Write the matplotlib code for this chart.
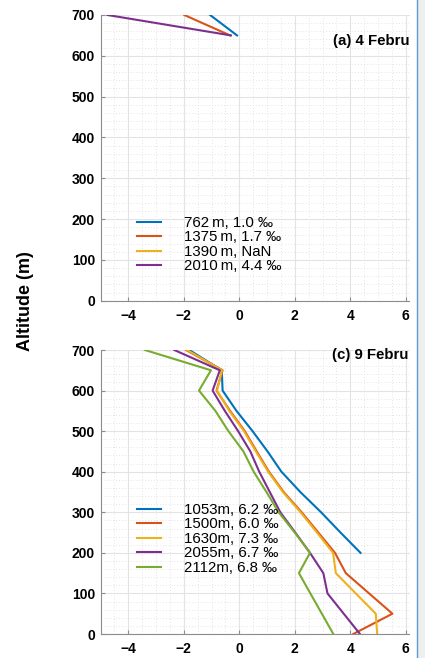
import matplotlib
matplotlib.use("Agg")
import matplotlib.pyplot as plt
from matplotlib.ticker import MultipleLocator
from matplotlib.patches import Rectangle
from matplotlib.lines import Line2D

plt.rcParams["font.family"] = ["Liberation Sans", "DejaVu Sans"]

colors = ["#0072BD", "#D95319", "#EDB120", "#7E2F8E", "#77AC30"]

# panel (a): 4 February
a_labels = ["762\u2009m, 1.0 \u2030", "1375\u2009m, 1.7 \u2030", "1390\u2009m, NaN", "2010\u2009m, 4.4 \u2030"]
a_alt = [700, 650]
a_x = [
    [-1.05, -0.08],
    [-1.98, -0.33],
    [float("nan"), float("nan")],
    [-4.75, -0.30],
]

# panel (c): 9 February
c_labels = ["1053m, 6.2 \u2030", "1500m, 6.0 \u2030", "1630m, 7.3 \u2030", "2055m, 6.7 \u2030", "2112m, 6.8 \u2030"]
c_alt = [
    [700, 650, 600, 550, 500, 450, 400, 350, 300, 250, 200],
    [700, 650, 600, 550, 500, 450, 400, 350, 300, 250, 200, 150, 50, 0],
    [700, 650, 600, 550, 500, 450, 400, 350, 300, 250, 200, 150, 50, 0],
    [700, 650, 600, 550, 500, 450, 400, 350, 300, 250, 200, 150, 100, 0],
    [700, 650, 600, 550, 500, 450, 400, 350, 300, 250, 200, 150, 0],
]
c_x = [
    [-1.80, -0.63, -0.60, -0.10, 0.48, 1.02, 1.52, 2.20, 2.95, 3.65, 4.37],
    [-1.92, -0.60, -0.82, -0.33, 0.20, 0.63, 1.07, 1.60, 2.25, 2.85, 3.45, 3.84, 5.52, 4.11],
    [-1.88, -0.62, -0.80, -0.36, 0.17, 0.60, 1.04, 1.57, 2.21, 2.80, 3.38, 3.48, 4.92, 4.97],
    [-2.34, -0.70, -0.96, -0.52, -0.04, 0.40, 0.72, 1.10, 1.48, 2.02, 2.55, 3.03, 3.18, 4.35],
    [-3.40, -1.02, -1.45, -0.86, -0.39, 0.15, 0.52, 0.98, 1.42, 2.00, 2.55, 2.15, 3.39],
]

W, H = 425, 658
fig = plt.figure(figsize=(W / 100, H / 100), dpi=100)

ax_left = 100.5 / W
ax_w = 11.5 * 27.75 / W
ax_a = fig.add_axes([ax_left, (H - 300.7) / H, ax_w, 285.7 / H])
ax_c = fig.add_axes([ax_left, (H - 634) / H, ax_w, 284 / H])


def style(ax):
    ax.set_xlim(-5, 6.5)
    ax.set_ylim(0, 700)
    ax.xaxis.set_major_locator(MultipleLocator(2))
    ax.xaxis.set_minor_locator(MultipleLocator(0.5))
    ax.yaxis.set_major_locator(MultipleLocator(100))
    ax.yaxis.set_minor_locator(MultipleLocator(20))
    ax.grid(True, which="major", color="#e3e3e3", lw=0.8)
    ax.grid(True, which="minor", color="#dcdcdc", lw=0.6, ls=(0, (1, 2.5)))
    ax.set_axisbelow(True)
    for s in ["top", "right"]:
        ax.spines[s].set_visible(False)
    for s in ["left", "bottom"]:
        ax.spines[s].set_color("#8c8c8c")
        ax.spines[s].set_linewidth(0.8)
    ax.tick_params(which="major", direction="in", length=3, color="#8c8c8c",
                   labelsize=10)
    ax.tick_params(axis="x", pad=6)
    ax.tick_params(axis="y", pad=4)
    ax.tick_params(which="minor", length=0)
    for lab in ax.get_xticklabels() + ax.get_yticklabels():
        lab.set_fontweight("bold")


for lab, xs, c in zip(a_labels, a_x, colors):
    ax_a.plot(xs, a_alt, color=c, lw=1.5, label=lab)
for lab, xs, alt, c in zip(c_labels, c_x, c_alt, colors):
    ax_c.plot(xs, alt, color=c, lw=1.5, label=lab)

for ax in (ax_a, ax_c):
    style(ax)

leg_kw = dict(loc="upper left", frameon=False, fontsize=10.8, handlelength=1.6,
              handletextpad=1.55, labelspacing=0.03, borderpad=0, borderaxespad=0,
              bbox_transform=fig.transFigure)
ax_a.legend(bbox_to_anchor=(137 / W, 1 - 216 / H), **leg_kw)
ax_c.legend(bbox_to_anchor=(137 / W, 1 - 503 / H), **leg_kw)

ax_a.text(3.38, 636, "(a) 4 Febru", fontsize=10.8, fontweight="bold", va="center", ha="left")
ax_c.text(3.34, 688, "(c) 9 Febru", fontsize=10.8, fontweight="bold", va="center", ha="left")

fig.text(25.5 / W, 1 - 301 / H, "Altitude (m)", rotation=90, fontsize=13,
         fontweight="bold", ha="center", va="center")

# screenshot edge on the right
fig.patches.append(Rectangle((409.5 / W, 0), (W - 409.5) / W, 1, transform=fig.transFigure,
                             facecolor="white", edgecolor="none", zorder=10))
fig.patches.append(Rectangle((418 / W, 0), (W - 418) / W, 1, transform=fig.transFigure,
                             facecolor="#eeeeee", edgecolor="none", zorder=11))
fig.lines.append(Line2D([417.3 / W, 417.3 / W], [0, 1], transform=fig.transFigure,
                        color="#5b9bd5", lw=1.0, zorder=12))

fig.savefig("out.png", dpi=100)
